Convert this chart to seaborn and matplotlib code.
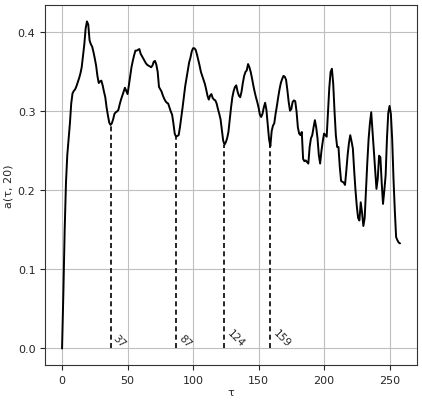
import numpy as np
import pandas as pd
import seaborn as sns
import matplotlib
matplotlib.use("Agg")
import matplotlib.pyplot as plt

# values of a(tau, 20), one per tau = 0..258
a_vals = [
    0.0, 0.07, 0.15, 0.21, 0.245, 0.265, 0.285, 0.31, 0.323, 0.326,
    0.328, 0.332, 0.337, 0.342, 0.348, 0.356, 0.37, 0.385, 0.405, 0.414,
    0.41, 0.39, 0.385, 0.382, 0.375, 0.367, 0.358, 0.345, 0.336, 0.338,
    0.339, 0.333, 0.325, 0.318, 0.305, 0.295, 0.286, 0.283, 0.285, 0.29,
    0.297, 0.299, 0.3, 0.302, 0.309, 0.315, 0.32, 0.325, 0.33, 0.326,
    0.322, 0.333, 0.345, 0.356, 0.364, 0.371, 0.377, 0.377, 0.378, 0.379,
    0.373, 0.37, 0.367, 0.364, 0.361, 0.359, 0.358, 0.357, 0.356, 0.358,
    0.363, 0.364, 0.359, 0.35, 0.331, 0.328, 0.325, 0.32, 0.316, 0.313,
    0.311, 0.31, 0.305, 0.3, 0.296, 0.285, 0.272, 0.268, 0.269, 0.27,
    0.28, 0.292, 0.305, 0.318, 0.332, 0.342, 0.352, 0.362, 0.368, 0.376,
    0.38, 0.38, 0.378, 0.372, 0.365, 0.358, 0.35, 0.345, 0.34, 0.335,
    0.328, 0.32, 0.315, 0.32, 0.322, 0.317, 0.315, 0.314, 0.31, 0.303,
    0.297, 0.29, 0.276, 0.263, 0.258, 0.261, 0.266, 0.274, 0.29, 0.305,
    0.318, 0.326, 0.331, 0.333, 0.325, 0.32, 0.318, 0.325, 0.336, 0.345,
    0.35, 0.352, 0.36, 0.356, 0.35, 0.342, 0.333, 0.325, 0.318, 0.312,
    0.305, 0.296, 0.293, 0.297, 0.305, 0.311, 0.302, 0.283, 0.265, 0.256,
    0.275, 0.282, 0.285, 0.297, 0.307, 0.318, 0.328, 0.336, 0.341, 0.345,
    0.344, 0.34, 0.327, 0.312, 0.301, 0.303, 0.312, 0.314, 0.313, 0.3,
    0.28, 0.272, 0.27, 0.274, 0.24, 0.237, 0.238, 0.236, 0.234, 0.255,
    0.266, 0.27, 0.28, 0.289, 0.28, 0.266, 0.245, 0.234, 0.25, 0.262,
    0.272, 0.27, 0.268, 0.3, 0.33, 0.35, 0.354, 0.335, 0.3, 0.27,
    0.255, 0.255, 0.23, 0.212, 0.211, 0.21, 0.207, 0.225, 0.245, 0.26,
    0.27, 0.262, 0.253, 0.225, 0.2, 0.18, 0.165, 0.162, 0.185, 0.172,
    0.155, 0.165, 0.2, 0.235, 0.265, 0.285, 0.299, 0.275, 0.25, 0.225,
    0.202, 0.215, 0.244, 0.242, 0.21, 0.183, 0.2, 0.219, 0.265, 0.298,
    0.307, 0.297, 0.265, 0.215, 0.175, 0.141, 0.137, 0.134, 0.133,
]
tau = np.arange(len(a_vals))

# local minima marked with dashed lines
minima = [37, 87, 124, 159]

df = pd.DataFrame({'tau': tau, 'a': a_vals})

sns.set_style("ticks", {"axes.grid": True, "grid.color": "0.75",
                        "axes.edgecolor": "0.2"})

fig = plt.figure(figsize=(4.22, 4.02), dpi=100)
ax = fig.add_axes([0.107, 0.09, 0.881, 0.895])

sns.lineplot(data=df, x='tau', y='a', color='k', linewidth=1.4, ax=ax)

for t in minima:
    ax.vlines(t, 0, a_vals[t], colors='k', linestyles=(0, (3, 2)), linewidth=1.2)
    ax.text(t + 0.5, 0, str(t), rotation=-45, ha='left', va='bottom',
            fontsize=7.5, color='0.15')

ax.set_xlabel('τ', fontsize=8, labelpad=2)
ax.set_ylabel('a(τ, 20)', fontsize=8, labelpad=3)
ax.set_yticks([0.0, 0.1, 0.2, 0.3, 0.4])
ax.tick_params(labelsize=8)

fig.savefig('out.png', dpi=100)
